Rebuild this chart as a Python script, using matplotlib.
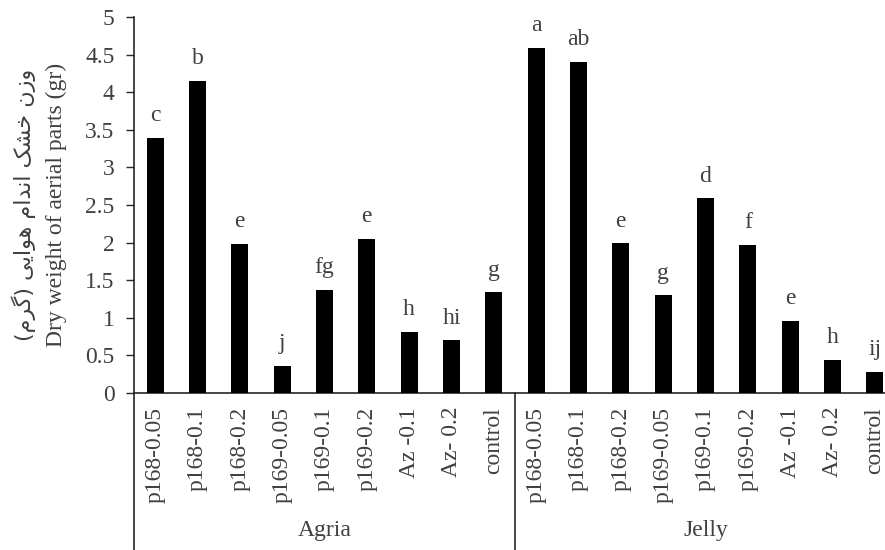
import matplotlib
matplotlib.use("Agg")
import matplotlib.pyplot as plt
from matplotlib import font_manager
import numpy as np

groups = ["Agria", "Jelly"]
treatments = ["p168-0.05", "p168-0.1", "p168-0.2", "p169-0.05", "p169-0.1",
              "p169-0.2", "Az -0.1", "Az- 0.2", "control"]
agria_vals = [3.39, 4.15, 1.98, 0.36, 1.37, 2.05, 0.81, 0.70, 1.34]
jelly_vals = [4.59, 4.40, 1.99, 1.30, 2.59, 1.97, 0.96, 0.44, 0.28]
agria_letters = ["c", "b", "e", "j", "fg", "e", "h", "hi", "g"]
jelly_letters = ["a", "ab", "e", "g", "d", "f", "e", "h", "ij"]
yticks = [0, 0.5, 1, 1.5, 2, 2.5, 3, 3.5, 4, 4.5, 5]
ytick_labels = ["0", "0.5", "1", "1.5", "2", "2.5", "3", "3.5", "4", "4.5", "5"]

# Persian label, pre-shaped into presentation forms in visual (LTR) order
persian_label = ("(\uFEE1\uFEAE\uFB94) "
                 "\uFBFD\uFBFE\uFE8D\uFEEE\uFEEB "
                 "\uFEE1\uFE8D\uFEAA\uFEE7\uFE8D "
                 "\uFB8F\uFEB8\uFEA7 "
                 "\uFEE5\uFEAF\uFEED")
english_label = "Dry weight of aerial parts (gr)"

plt.rcParams['font.family'] = 'serif'
plt.rcParams['font.serif'] = ['Liberation Serif', 'DejaVu Serif']
FS = 17
TXT = '#404040'
LINE = '#262626'

W, H = 885, 550
fig = plt.figure(figsize=(W / 100, H / 100), dpi=100)
left, right, bottom, top = 134, 896, 393, 17
ax = fig.add_axes([left / W, 1 - bottom / H, (right - left) / W, (bottom - top) / H])

values = agria_vals + jelly_vals
letters = agria_letters + jelly_letters
labels = treatments + treatments
x = np.arange(len(values))
ax.bar(x, values, width=0.4, color='black', zorder=3)

for xi, v, l in zip(x, values, letters):
    ax.annotate(l, (xi, v), xytext=(0, 12), textcoords='offset points',
                ha='center', va='baseline', fontsize=FS, color=TXT)

ax.set_xlim(-0.5, len(values) - 0.5)
ax.set_ylim(0, 5)
ax.set_yticks(yticks)
ax.set_yticklabels(ytick_labels, fontsize=FS, color=TXT)
ax.set_xticks(x)
ax.set_xticklabels(labels, rotation=90, fontsize=FS, color=TXT, va='top', ha='center')
ax.tick_params(axis='x', length=0, pad=10)
ax.tick_params(axis='y', length=6, width=1, color=LINE, pad=8, direction='out')

for s in ['top', 'right']:
    ax.spines[s].set_visible(False)
for s in ['left', 'bottom']:
    ax.spines[s].set_color(LINE)
    ax.spines[s].set_linewidth(1.2)

trans = ax.get_xaxis_transform()
for bx in [-0.5, 8.5]:
    ax.plot([bx, bx], [0, -0.5], transform=trans, color=LINE, lw=1.2, clip_on=False)

for gi, g in enumerate(groups):
    ax.text(gi * 9 + 4, -0.365, g, transform=trans, ha='center', va='center',
            fontsize=FS, color=TXT)

fig.text(24 / W, 1 - 205 / H, persian_label, rotation=90, ha='center', va='center',
         fontsize=16, color=TXT, family='DejaVu Sans')
fig.text(56 / W, 1 - 205 / H, english_label, rotation=90, ha='center', va='center',
         fontsize=FS, color=TXT)

fig.savefig("out.png", dpi=100)
